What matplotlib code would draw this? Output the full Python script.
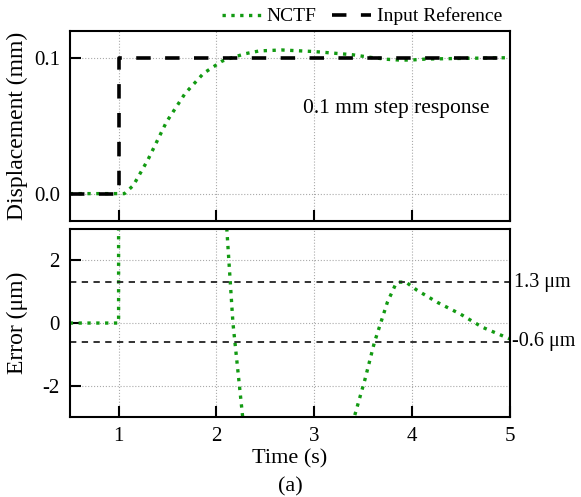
import matplotlib
matplotlib.use('Agg')
import matplotlib.pyplot as plt

plt.rcParams['font.family'] = ['Liberation Serif', 'DejaVu Serif']

# Step reference input (mm)
ref_t = [0.5, 1.0, 1.0, 5.0]
ref_y = [0.0, 0.0, 0.1, 0.1]

# NCTF displacement response (mm)
nctf_t = [0.5, 1.0, 1.06, 1.15, 1.30, 1.49, 1.68, 1.87, 2.06, 2.16, 2.30, 2.44,
          2.67, 3.01, 3.39, 3.58, 3.75, 3.88, 4.0, 4.15, 4.53, 5.0]
nctf_y = [0.0, 0.0, 0.0, 0.006, 0.025, 0.053, 0.074, 0.089, 0.098, 0.1005,
          0.1035, 0.1055, 0.1062, 0.105, 0.1027, 0.1007, 0.0993, 0.0987,
          0.0988, 0.0995, 0.1, 0.1005]

# Tracking error (um)
err_t = [0.5, 1.0, 1.0, 1.5, 2.0, 2.107, 2.17, 2.27, 2.45, 3.0, 3.35, 3.41,
         3.52, 3.616, 3.75, 3.83, 3.86, 3.94, 4.05, 4.26, 4.50, 4.72, 5.0]
err_y = [0.0, 0.0, 100.0, 49.0, 8.0, 3.0, 0.0, -3.0, -5.5, -5.5, -3.3, -3.0,
         -1.8, -0.63, 0.66, 1.2, 1.3, 1.3, 1.05, 0.66, 0.28, -0.13, -0.5]

# error bounds marked on the lower panel
bound_hi = 1.3
bound_lo = -0.6

green = '#129a12'

fig = plt.figure(figsize=(5.81, 4.97), dpi=100)
ax1 = fig.add_axes([0.12, 0.556, 0.757, 0.381])
ax2 = fig.add_axes([0.12, 0.160, 0.757, 0.380])

ax1.plot(nctf_t, nctf_y, ':', color=green, lw=2.4, label='NCTF')
ax1.plot(ref_t, ref_y, '--', color='black', lw=2.6, dashes=(4, 4),
         label='Input Reference')
ax1.set_xlim(0.5, 5)
ax1.set_ylim(-0.02, 0.12)
ax1.set_yticks([0.0, 0.1])
ax1.set_yticklabels(['0.0', '0.1'])
ax1.set_xticks([1, 2, 3, 4, 5])
ax1.set_xticklabels([])
ax1.set_ylabel('Displacement (mm)', fontsize=17)
ax1.text(0.955, 0.595, '0.1 mm step response', transform=ax1.transAxes,
         ha='right', va='center', fontsize=15.5)
ax1.legend(loc='lower right', bbox_to_anchor=(1.0, 0.99), ncol=2,
           frameon=False, fontsize=14, handlelength=2.0, columnspacing=0.8,
           handletextpad=0.3, borderaxespad=0.0)

ax2.plot(err_t, err_y, ':', color=green, lw=2.4)
ax2.axhline(bound_hi, color='#222222', ls='--', lw=1.3, dashes=(3.5, 3))
ax2.axhline(bound_lo, color='#222222', ls='--', lw=1.3, dashes=(3.5, 3))
ax2.text(1.01, bound_hi, '%.1f \u03bcm' % bound_hi, transform=ax2.get_yaxis_transform(),
         ha='left', va='center', fontsize=14.5)
ax2.text(1.005, bound_lo, '%.1f \u03bcm' % bound_lo, transform=ax2.get_yaxis_transform(),
         ha='left', va='center', fontsize=14.5)
ax2.set_xlim(0.5, 5)
ax2.set_ylim(-3, 3)
ax2.set_yticks([-2, 0, 2])
ax2.set_yticklabels(['-2', '0', '2'])
ax2.set_xticks([1, 2, 3, 4, 5])
ax2.set_xlabel('Time (s)', fontsize=16, labelpad=2)
ax2.set_ylabel('Error (\u03bcm)', fontsize=17)

for ax in (ax1, ax2):
    ax.grid(True, ls=':', color='#aaaaaa', lw=0.8)
    ax.tick_params(direction='in', length=8, width=1.5, labelsize=15, pad=7)
    ax.yaxis.set_label_coords(-0.095, 0.5)
    for s in ax.spines.values():
        s.set_linewidth(1.5)

fig.text(0.5, 0.012, '(a)', ha='center', fontsize=16)

fig.savefig('out.png', dpi=100)
